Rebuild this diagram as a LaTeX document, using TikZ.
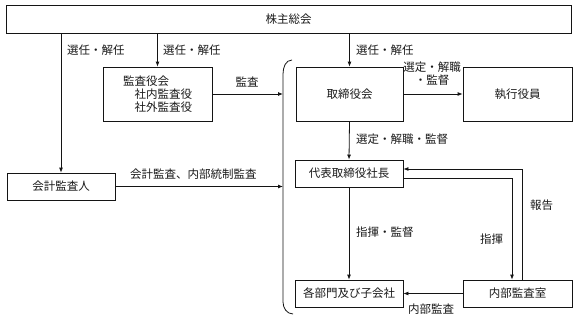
\documentclass[tikz,border=0pt]{standalone}
\usepackage{fontspec}
\setmainfont{Noto Sans CJK JP}
\usepackage{xcolor}
\usepackage{tikz}
\usetikzlibrary{arrows.meta,positioning,calc}
\definecolor{gvedge}{RGB}{20,20,20}
\definecolor{gvink}{RGB}{25,25,25}
\tikzset{
  gvbox/.style={
    draw=gvedge, line width=0.8pt, align=center, inner sep=0pt,
    text=gvink, font=\fontsize{11.5}{13}\selectfont
  },
  wbox/.style={gvbox, minimum width=108pt, minimum height=54pt},
  sbox/.style={gvbox, minimum width=108pt, minimum height=27pt},
  arr/.style={-{Latex[length=5pt,width=4pt]}, draw=gvedge, line width=0.8pt},
  line/.style={draw=gvedge, line width=0.8pt},
  anno/.style={font=\fontsize{11.5}{13}\selectfont, text=gvink, inner sep=0pt, align=center},
  lanno/.style={anno, anchor=west}
}

\begin{document}
\begin{tikzpicture}[x=1pt, y=-1pt]
  \useasboundingbox (0,0) rectangle (577,321);
  % boxes
  \node[gvbox, minimum width=565pt, minimum height=28pt] (gm) at (288.5,19) {株主総会};
  \node[wbox, minimum width=109pt, align=left] (kan) at (157.5,94)
    {監査役会\\\hspace*{1em}社内監査役\\\hspace*{1em}社外監査役};
  \node[wbox, minimum width=107pt] (tori) at (349.5,94) {取締役会};
  \node[wbox, minimum width=109pt] (shikko) at (517.5,94) {執行役員};
  \node[sbox] (kaikei) at (61,186.5) {会計監査人};
  \node[sbox] (ceo) at (349,173.5) {代表取締役社長};
  \node[sbox] (bumon) at (349,293.5) {各部門及び子会社};
  \node[sbox, minimum width=109pt] (naibu) at (517.5,293.5) {内部監査室};
  % bracket
  \coordinate (brtop) at (292,60);
  \coordinate (brbot) at (293,314);
  \coordinate (brkan) at (283,94);
  \coordinate (brkai) at (283,186.5);
  \draw[line] (brtop) to[out=180,in=90] (283,74) -- (283,302) to[out=-90,in=180] (brbot);
  % election
  \draw[arr] (kaikei.north |- gm.south) -- (kaikei.north);
  \draw[arr] (kan.north |- gm.south) -- (kan.north);
  \draw[arr] (tori.north |- gm.south) -- (tori.north);
  \node[lanno] (sen1) at (67,50) {選任・解任};
  \node[lanno] (sen2) at (163,50) {選任・解任};
  \node[lanno] (sen3) at (356,50) {選任・解任};
  % audit
  \draw[arr] (kan.east) -- (brkan);
  \node[anno] (kansa) at (247,82) {監査};
  \draw[arr] (kaikei.east) -- (brkai);
  \node[lanno] (kaikeil) at (130,174) {会計監査、内部統制監査};
  % board
  \draw[arr] (tori.east) -- (shikko.west);
  \node[anno] (senshi) at (432,74) {選定・解職\\・監督};
  \draw[arr] (tori.south) -- (ceo.north);
  \node[lanno] (sentei) at (356,139) {選定・解職・監督};
  \draw[arr] (ceo.south) -- (bumon.north);
  \node[lanno] (shiki) at (356,232) {指揮・監督};
  % internal audit loop
  \coordinate (loopo) at (522,169);
  \coordinate (loopi) at (512,178);
  \draw[arr] (naibu.north -| loopo) -- (loopo) -- (ceo.east |- loopo);
  \draw[arr] (ceo.east |- loopi) -- (loopi) -- (naibu.north -| loopi);
  \node[lanno] (hokoku) at (530,205) {報告};
  \node[lanno] (shiki2) at (480,239) {指揮};
  \draw[arr] (naibu.west) -- (bumon.east);
  \node[anno] (naibul) at (431,309) {内部監査};
\end{tikzpicture}
\end{document}
